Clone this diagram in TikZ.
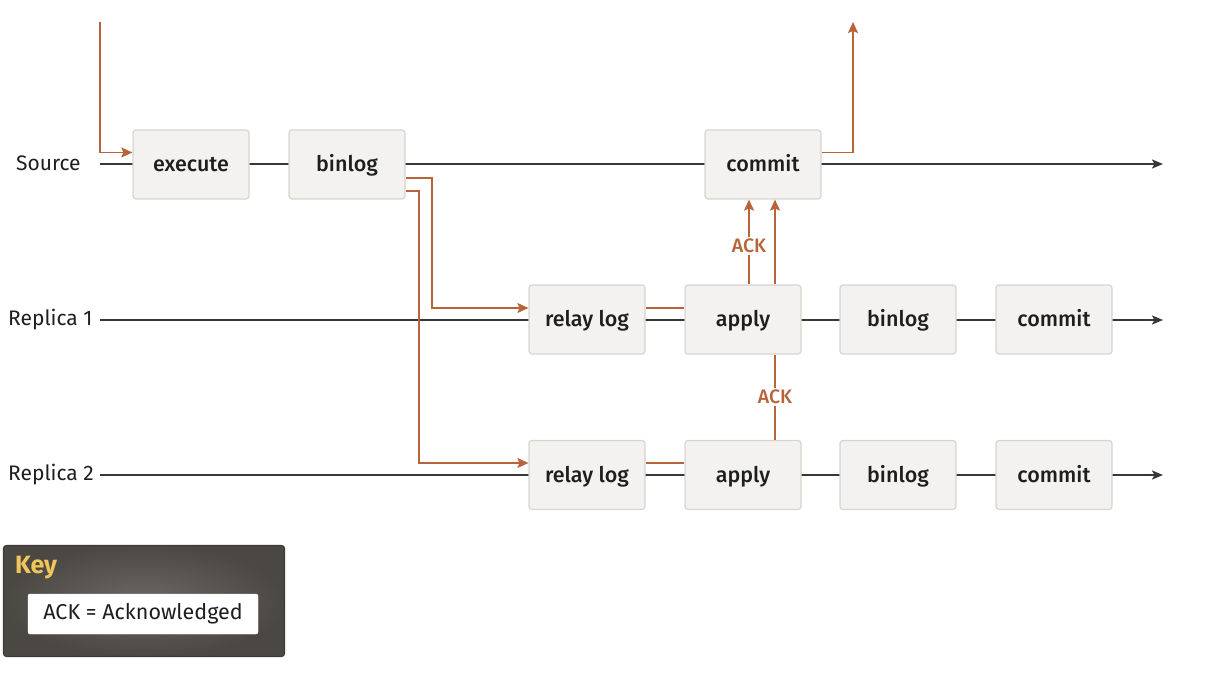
\documentclass[tikz,border=0pt]{standalone}
\usepackage{fontspec}
\setmainfont{Fira Sans}
\newfontfamily\medfont{Fira Sans Medium}
\usetikzlibrary{arrows.meta,backgrounds}
\definecolor{org}{RGB}{184,100,58}
\definecolor{boxfill}{RGB}{243,242,240}
\definecolor{boxline}{RGB}{216,212,207}
\definecolor{ln}{RGB}{55,55,55}
\definecolor{keybg}{RGB}{94,90,85}
\definecolor{keyedge}{RGB}{60,57,54}
\definecolor{keyyel}{RGB}{240,198,90}
\definecolor{txt}{RGB}{30,30,30}
\begin{document}
\begin{tikzpicture}[x=1pt,y=-1pt,
 stage/.style={draw=boxline,fill=boxfill,line width=1.2pt,rounded corners=3pt,minimum width=116pt,minimum height=69pt,text height=16pt,text depth=2pt,font=\medfont\fontsize{21.5}{24}\selectfont,text=txt},
 lab/.style={font=\fontsize{21}{24}\selectfont,text=txt,anchor=west,inner sep=0pt},
 tl/.style={draw=ln,line width=1.8pt},
 karr/.style={tl,-{Stealth[length=11pt,width=9pt,inset=2.5pt]}},
 ol/.style={draw=org,line width=1.6pt},
 oarr/.style={ol,-{Stealth[length=11pt,width=10pt,inset=2pt]}},
 ack/.style={fill=white,text=org,font=\medfont\fontsize{19.5}{22}\selectfont,inner sep=2pt}
]
\useasboundingbox (0,0) rectangle (1212,682);
% labels
\node[lab] (lsrc) at (16,163) {Source};
\node[lab] (lr1) at (8,320) {Replica 1};
\node[lab] (lr2) at (8,475) {Replica 2};
% source row
\node[stage] (execute) at (191,164.5) {execute};
\node[stage] (binlog) at (347,164.5) {binlog};
\node[stage] (commit) at (763,164.5) {commit};
% replica 1
\node[stage] (relay1) at (587,319.5) {relay log};
\node[stage] (apply1) at (743,319.5) {apply};
\node[stage] (binlog1) at (898,319.5) {binlog};
\node[stage] (commit1) at (1054,319.5) {commit};
% replica 2
\node[stage] (relay2) at (587,475) {relay log};
\node[stage] (apply2) at (743,475) {apply};
\node[stage] (binlog2) at (898,475) {binlog};
\node[stage] (commit2) at (1054,475) {commit};
% timeline coordinates
\coordinate (s0) at (100,164);
\coordinate (s1) at (1163,164);
\coordinate (r10) at (100,320);
\coordinate (r11) at (1163,320);
\coordinate (r20) at (100,475);
\coordinate (r21) at (1163,475);
\coordinate (in0) at (100,22);
\coordinate (out0) at (853,22);
\coordinate (b1) at (432,178);
\coordinate (b2) at (419,191);
\begin{scope}[on background layer]
 \draw[karr] (s0) -- (s1);
 \draw[karr] (r10) -- (r11);
 \draw[karr] (r20) -- (r21);
 \draw[ol] ([yshift=11.5pt]relay1.east) -- ([yshift=11.5pt]apply1.west);
 \draw[ol] ([yshift=12pt]relay2.east) -- ([yshift=12pt]apply2.west);
\end{scope}
% orange flows
\draw[oarr] (in0) |- ([yshift=12pt]execute.west);
\draw[oarr] ([yshift=12pt]commit.east) -| (out0);
\draw[oarr] ([yshift=-13.5pt]binlog.east) -- (b1) |- ([yshift=11.5pt]relay1.west);
\draw[oarr] ([yshift=-26.5pt]binlog.east) -- (b2) |- ([yshift=12pt]relay2.west);
\draw[oarr] ([xshift=6pt]apply1.north) -- node[ack,pos=0.45] (ack1) {ACK} ([xshift=6pt]apply1.north |- commit.south);
\draw[oarr] ([xshift=32pt]apply1.north) -- ([xshift=32pt]apply1.north |- commit.south);
\draw[ol] ([xshift=32pt]apply2.north) -- node[ack] (ack2) {ACK} ([xshift=32pt]apply1.south);
% key
\node[draw=keyedge,line width=1.2pt,inner color=keybg!92!white,outer color=keybg!80!black,rounded corners=3pt,minimum width=281pt,minimum height=111pt] (keybox) at (144,601) {};
\node[anchor=west,inner sep=0pt,text=keyyel,font=\bfseries\fontsize{25}{28}\selectfont] (keylab) at (15,568) {Key};
\node[fill=white,draw=white,rounded corners=2pt,minimum width=230pt,minimum height=40pt,font=\fontsize{21.5}{24}\selectfont,text=txt] (keyitem) at (143,614) {ACK = Acknowledged};
\end{tikzpicture}
\end{document}
